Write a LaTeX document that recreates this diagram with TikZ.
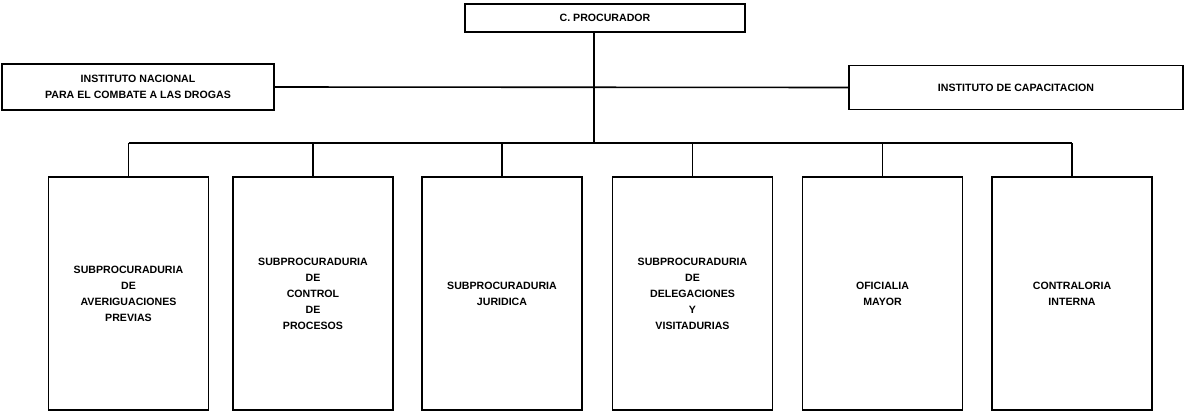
\documentclass[tikz,border=0pt]{standalone}
\usepackage{fontspec}
\setmainfont{Liberation Sans}
\begin{document}
\begin{tikzpicture}[x=0.5pt,y=-0.5pt,
  box/.style={draw, line width=0.9pt, inner sep=0pt, outer sep=0pt, align=center,
    font=\fontsize{5.3}{8}\selectfont\bfseries},
  unit/.style={box, minimum width=80pt, minimum height=116.5pt},
  link/.style={line width=0.8pt}]
\useasboundingbox (0,0) rectangle (1185,413);
% top level
\node[box, minimum width=140pt, minimum height=14pt] (cp) at (605,18) {C. PROCURADOR};
\node[box, minimum width=136pt, minimum height=23pt] (inst) at (138,87)
  {INSTITUTO NACIONAL\\PARA EL COMBATE A LAS DROGAS};
\node[box, minimum width=167pt, minimum height=22pt] (cap) at (1016,87.5)
  {INSTITUTO DE CAPACITACION};
% units
\node[unit] (b1) at (128.5,293.5) {SUBPROCURADURIA\\DE\\AVERIGUACIONES\\PREVIAS};
\node[unit] (b2) at (313,293.5) {SUBPROCURADURIA\\DE\\CONTROL\\DE\\PROCESOS};
\node[unit] (b3) at (502,293.5) {SUBPROCURADURIA\\JURIDICA};
\node[unit] (b4) at (692.5,293.5) {SUBPROCURADURIA\\DE\\DELEGACIONES\\Y\\VISITADURIAS};
\node[unit] (b5) at (882.5,293.5) {OFICIALIA\\MAYOR};
\node[unit] (b6) at (1072,293.5) {CONTRALORIA\\INTERNA};
% connectors
\coordinate (hub) at (594,87);
\coordinate (bushub) at (594,143);
\draw[link] (cp.south -| hub) -- (bushub);
\draw[link] (inst.east) -- (cap.west);
\draw[link] (b1.north |- bushub) -- (b6.north |- bushub);
\foreach \b in {b1,b2,b3,b4,b5,b6}
  \draw[link] (\b.north |- bushub) -- (\b.north);
\end{tikzpicture}
\end{document}
